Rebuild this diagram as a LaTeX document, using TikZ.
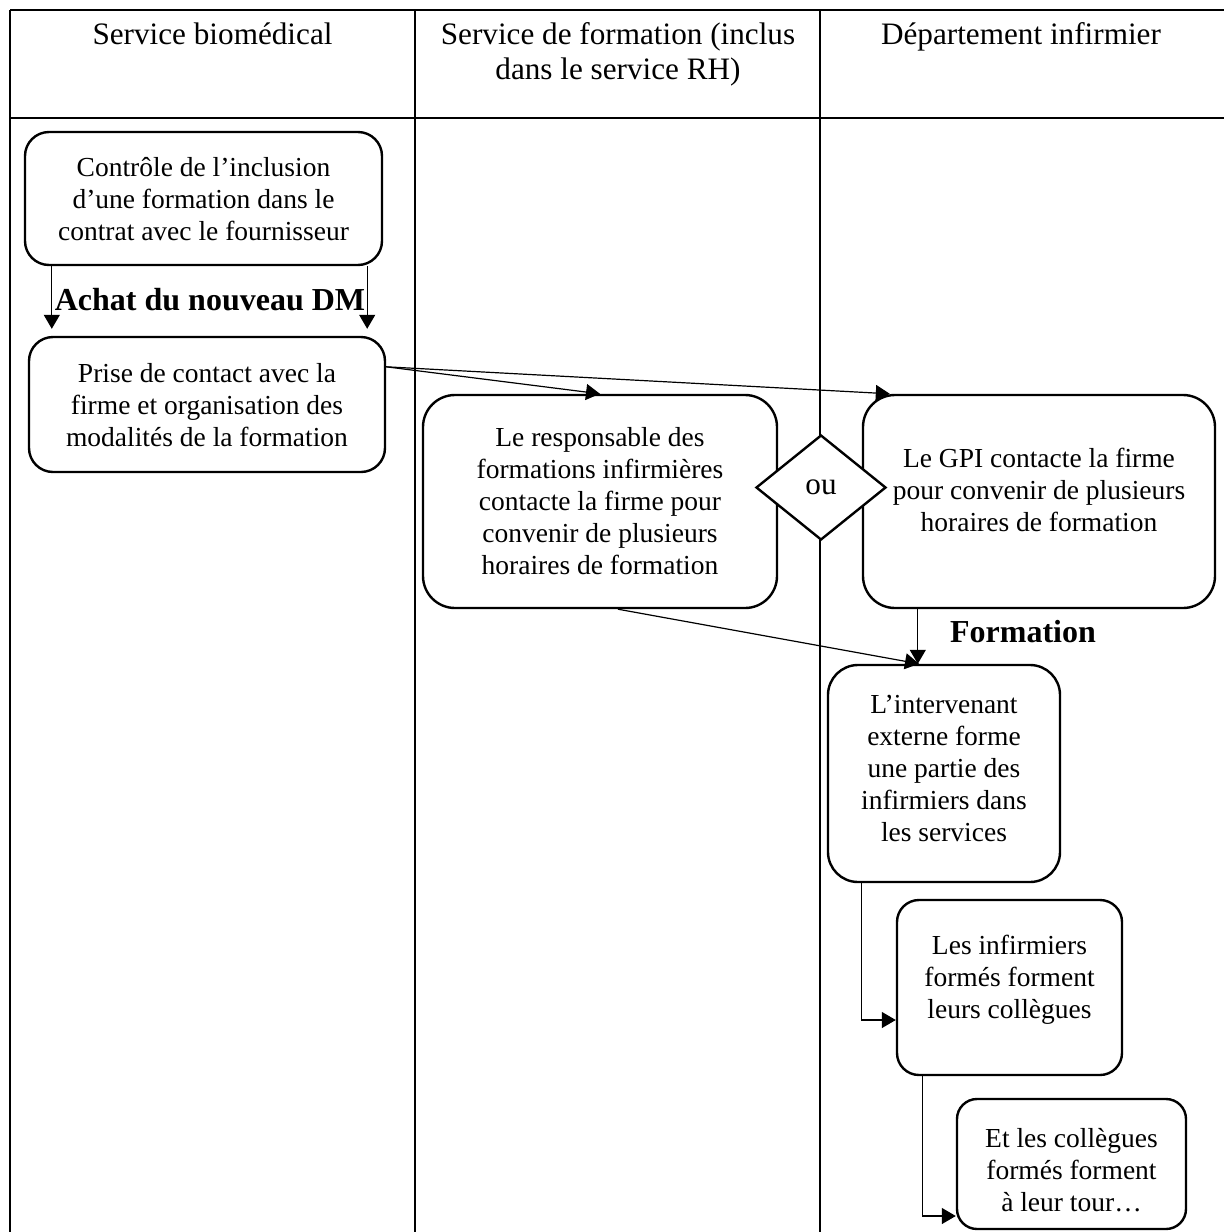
\documentclass[tikz,border=0pt]{standalone}
\usepackage{fontspec}
\setmainfont{Liberation Serif}
\usetikzlibrary{arrows.meta,shapes.geometric}

\newcommand{\boxfont}{\fontsize{13.75pt}{16pt}\selectfont}
% text held at the top of the box: width, height, top gap, text
\newcommand{\inbox}[4]{\parbox[c][#2][t]{#1}{\centering\vspace*{#3}#4\par}}

\tikzset{
  stepbox/.style={draw, line width=1.2pt, rounded corners=12pt, inner sep=0pt, font=\boxfont},
  orbox/.style={draw, diamond, fill=white, line width=1.2pt, inner sep=0pt,
    minimum width=65pt, minimum height=52.5pt, font=\fontsize{15.6pt}{17.5pt}\selectfont},
  flow/.style={-{Triangle[length=7pt,width=8pt]}, line width=0.6pt},
  lane/.style={line width=1pt},
  head/.style={font=\fontsize{15.6pt}{17.5pt}\selectfont, align=center, inner sep=0pt},
  steplabel/.style={font=\bfseries\fontsize{16pt}{19pt}\selectfont, inner sep=0pt}
}

\begin{document}
\begin{tikzpicture}[x=0.5pt,y=-0.5pt]
  \useasboundingbox (0,0) rectangle (1223,1232);
  % swimlanes
  \draw[lane] (10,10) -- (1240,10);
  \draw[lane] (10,118) -- (1240,118);
  \foreach \x in {10,415,820}
    \draw[lane] (\x,10) -- (\x,1250);
  \node[head, anchor=base] (h1) at (212.5,44) {Service biomédical};
  \node[head, anchor=base] (h2) at (618,79) {Service de formation (inclus\\dans le service RH)};
  \node[head, anchor=base] (h3) at (1021,44) {Département infirmier};

  % steps
  \node[stepbox] (b1) at (203.5,198.5)
    {\inbox{178.5pt}{66.5pt}{12.5pt}{Contrôle de l’inclusion\\d’une formation dans le\\contrat avec le fournisseur}};
  \node[stepbox] (b2) at (207,404.5)
    {\inbox{178pt}{67.5pt}{13pt}{Prise de contact avec la\\firme et organisation des\\modalités de la formation}};
  \node[stepbox, rounded corners=16pt] (b3) at (600,501.5)
    {\inbox{177pt}{106.5pt}{16pt}{Le responsable des\\formations infirmières\\contacte la firme pour\\convenir de plusieurs\\horaires de formation}};
  \node[stepbox, rounded corners=16pt] (b4) at (1039,501.5)
    {\inbox{176pt}{106.5pt}{26.5pt}{Le GPI contacte la firme\\pour convenir de plusieurs\\horaires de formation}};
  \node[orbox] (or) at (821,487.5) {ou};
  \node[stepbox, rounded corners=15pt] (b5) at (944,773.5)
    {\inbox{116pt}{108.5pt}{15pt}{L’intervenant\\externe forme\\une partie des\\infirmiers dans\\les services}};
  \node[stepbox, rounded corners=11pt] (b6) at (1009.5,987.5)
    {\inbox{112.5pt}{87.5pt}{17.5pt}{Les infirmiers\\formés forment\\leurs collègues}};
  \node[stepbox, rounded corners=10pt] (b7) at (1071.5,1164)
    {\inbox{114.5pt}{65pt}{14.5pt}{Et les collègues\\formés forment\\à leur tour…}};

  % labels on the flow
  \node[steplabel, anchor=base] (buy) at (210,310) {Achat du nouveau DM};
  \node[steplabel, anchor=base] (train) at (1023,642) {Formation};

  % connectors
  \draw[flow, shorten >=3.5pt] ([xshift=14pt]b1.south west) -- ([xshift=14pt]b1.south west |- b2.north);
  \draw[flow, shorten >=3.5pt] ([xshift=-8pt]b1.south east) -- ([xshift=-8pt]b1.south east |- b2.north);
  \draw[flow] ([yshift=-15.5pt]b2.north east) -- (b3.north);
  \draw[flow] ([yshift=-15.5pt]b2.north east) -- ([xshift=14pt]b4.north west);
  \draw[flow] ([xshift=9pt]b3.south) -- ([xshift=-12.5pt]b5.north);
  \draw[flow] ([xshift=28pt]b4.south west) -- ([xshift=28pt]b4.south west |- b5.north);
  \draw[flow] ([xshift=17.5pt]b5.south west) |- ([yshift=-16.25pt]b6.west);
  \draw[flow] ([xshift=13.5pt]b6.south west) |- ([yshift=-26pt]b7.west);
\end{tikzpicture}
\end{document}
